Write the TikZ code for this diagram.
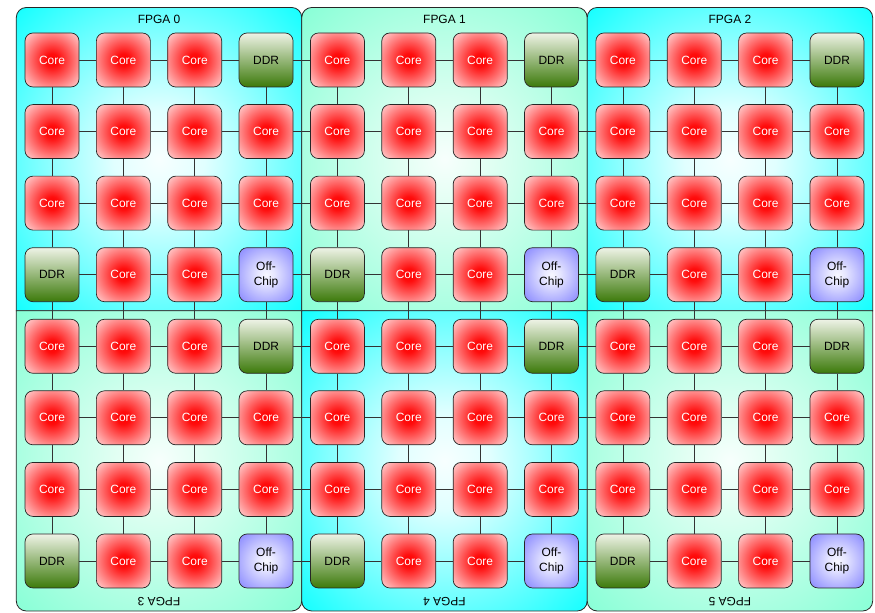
\documentclass[tikz,border=0pt]{standalone}
\usepackage{fontspec}
\setmainfont{Liberation Sans}
\usetikzlibrary{positioning}

\pgfdeclareradialshading{coreglow}{\pgfpoint{0bp}{0bp}}{rgb(0bp)=(1,0,0);rgb(6bp)=(1,0.05,0.05);rgb(34bp)=(1,0.8,0.8);rgb(50bp)=(1,0.88,0.88)}
\pgfdeclareradialshading{offglow}{\pgfpoint{0bp}{0bp}}{rgb(0bp)=(0.97,0.97,1);rgb(8bp)=(0.9,0.9,1);rgb(36bp)=(0.52,0.52,1);rgb(50bp)=(0.45,0.45,1)}
\pgfdeclareradialshading{cyanglow}{\pgfpoint{0bp}{0bp}}{rgb(0bp)=(0.97,1,1);rgb(8bp)=(0.88,1,1);rgb(38bp)=(0,1,1);rgb(50bp)=(0,1,1)}
\pgfdeclareradialshading{aquaglow}{\pgfpoint{0bp}{0bp}}{rgb(0bp)=(0.97,1,0.99);rgb(8bp)=(0.88,1,0.95);rgb(38bp)=(0.5,1,0.83);rgb(50bp)=(0.5,1,0.83)}
\definecolor{ddrtop}{RGB}{238,243,230}
\definecolor{ddrbot}{RGB}{60,122,10}

\begin{document}
\begin{tikzpicture}[
    x=1bp, y=1bp,
    unit/.style={draw=black!85, line width=0.7bp, rounded corners=8bp,
        minimum size=54bp, inner sep=0pt, align=center,
        font=\fontsize{12}{14.5}\selectfont},
    core/.style={unit, shade, shading=coreglow, text=white},
    ddr/.style={unit, top color=ddrtop, bottom color=ddrbot},
    offchip/.style={unit, shade, shading=offglow},
    panel/.style={draw=black!85, line width=0.8bp, shade},
    tag/.style={font=\fontsize{12}{14}\selectfont, inner sep=0pt},
    link/.style={draw=black!80, line width=0.7bp}
]
\useasboundingbox (0,0) rectangle (875,613);

\foreach \k in {0,1,2}{
    \pgfmathsetmacro\xa{16.3+285.45*\k}
    \pgfmathsetmacro\xb{\xa+285.45}
    \pgfmathtruncatemacro\tone{mod(\k,2)}
    \ifnum\tone=0 \def\glow{cyanglow}\else\def\glow{aquaglow}\fi
    \draw[panel, shading=\glow] (\xa,302.3) -- (\xa,595.5)
        arc[start angle=180, end angle=90, radius=10] -- (\xb-10,605.5)
        arc[start angle=90, end angle=0, radius=10] -- (\xb,302.3) -- cycle;
    \node[tag] (fpga\k) at ({(\xa+\xb)/2},594) {FPGA \k};
}
\foreach \k in {3,4,5}{
    \pgfmathsetmacro\xa{16.3+285.45*(\k-3)}
    \pgfmathsetmacro\xb{\xa+285.45}
    \pgfmathtruncatemacro\tone{mod(\k,2)}
    \ifnum\tone=0 \def\glow{cyanglow}\else\def\glow{aquaglow}\fi
    \draw[panel, shading=\glow] (\xa,302.3) -- (\xb,302.3) -- (\xb,12)
        arc[start angle=0, end angle=-90, radius=10] -- (\xa+10,2)
        arc[start angle=270, end angle=180, radius=10] -- cycle;
    \node[tag, rotate=180] (fpga\k) at ({(\xa+\xb)/2},11) {FPGA \k};
}

\foreach \c in {0,...,11}{
    \foreach \r in {0,...,7}{
        \pgfmathtruncatemacro\i{mod(\c,4)}
        \pgfmathtruncatemacro\j{mod(\r,4)}
        \pgfmathtruncatemacro\kind{((\i==3 && \j==0) || (\i==0 && \j==3)) ? 1 : ((\i==3 && \j==3) ? 2 : 0)}
        \ifcase\kind
            \node[core] (n\c-\r) at ({52+71.36*\c},{553-71.57*\r}) {Core};
        \or
            \node[ddr] (n\c-\r) at ({52+71.36*\c},{553-71.57*\r}) {DDR};
        \or
            \node[offchip] (n\c-\r) at ({52+71.36*\c},{553-71.57*\r}) {Off-\\Chip};
        \fi
    }
}

\foreach \c [count=\cn from 1] in {0,...,10}
    \foreach \r in {0,...,7}
        \draw[link] (n\c-\r) -- (n\cn-\r);
\foreach \r [count=\rn from 1] in {0,...,6}
    \foreach \c in {0,...,11}
        \draw[link] (n\c-\r) -- (n\c-\rn);
\end{tikzpicture}
\end{document}
